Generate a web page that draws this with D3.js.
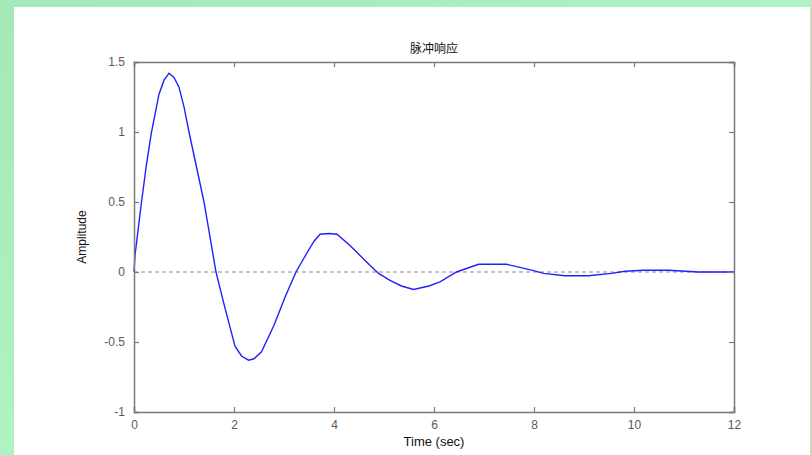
<!DOCTYPE html>
<html>
<head>
<meta charset="utf-8">
<script src="https://cdn.jsdelivr.net/npm/d3@7"></script>
<style>
  body { margin: 0; background: #aaefbe; }
  svg { display: block; }
</style>
</head>
<body>
<div id="chart"></div>
<script>
// impulse response
var timeVals = [0, 0.02, 0.15, 0.25, 0.35, 0.5, 0.6, 0.7, 0.8, 0.9, 1.0, 1.1, 1.4, 1.64, 1.8, 2.02, 2.15, 2.29, 2.4, 2.55, 2.8, 3.02, 3.24, 3.4, 3.6, 3.72, 3.9, 4.06, 4.32, 4.6, 4.89, 5.12, 5.35, 5.59, 5.9, 6.12, 6.45, 6.89, 7.45, 7.99, 8.19, 8.62, 9.09, 9.55, 9.82, 10.19, 10.69, 11.29, 12];
var ampVals  = [0, 0.12, 0.5, 0.77, 1.0, 1.27, 1.37, 1.42, 1.39, 1.32, 1.18, 1.0, 0.5, 0, -0.23, -0.53, -0.6, -0.63, -0.62, -0.57, -0.38, -0.18, 0, 0.1, 0.22, 0.27, 0.275, 0.27, 0.19, 0.09, -0.01, -0.06, -0.1, -0.125, -0.1, -0.07, 0, 0.055, 0.055, 0.01, -0.01, -0.027, -0.027, -0.01, 0.005, 0.012, 0.012, 0, 0];
var xTicks = [0, 2, 4, 6, 8, 10, 12];
var yTicks = [-1, -0.5, 0, 0.5, 1, 1.5];

var width = 811, height = 455;
var svg = d3.select("#chart").append("svg")
    .attr("width", width)
    .attr("height", height);

// slide background
var grad = svg.append("defs").append("linearGradient")
    .attr("id", "bg").attr("x1", "0").attr("y1", "0").attr("x2", "1").attr("y2", "1");
grad.append("stop").attr("offset", "0").attr("stop-color", "#a3e8b6");
grad.append("stop").attr("offset", "0.5").attr("stop-color", "#aef3c2");
grad.append("stop").attr("offset", "1").attr("stop-color", "#a6ecb9");
svg.append("rect").attr("width", width).attr("height", height).attr("fill", "url(#bg)");
svg.append("rect")
    .attr("x", 14).attr("y", 7)
    .attr("width", 796).attr("height", 448)
    .attr("fill", "#ffffff");

var plotLeft = 134, plotRight = 734, plotTop = 62, plotBottom = 412;
var x = d3.scaleLinear().domain([0, 12]).range([plotLeft, plotRight]);
var y = d3.scaleLinear().domain([-1, 1.5]).range([plotBottom, plotTop]);

var axisColor = "#7a7a7a", textColor = "#5a5a5a";

var g = svg.append("g");

// zero reference line
g.append("line")
    .attr("x1", x(0)).attr("x2", x(12))
    .attr("y1", y(0)).attr("y2", y(0))
    .attr("stroke", "#8a8a8a")
    .attr("stroke-width", 1.2)
    .attr("stroke-dasharray", "4,3");

// response curve
var line = d3.line()
    .x(function(d, i) { return x(timeVals[i]); })
    .y(function(d) { return y(d); });

g.append("path")
    .datum(ampVals)
    .attr("d", line)
    .attr("fill", "none")
    .attr("stroke", "#2020ff")
    .attr("stroke-width", 1.4);

// axes: ticks inward on all four sides
var bottomAxis = d3.axisBottom(x).tickValues(xTicks).tickSize(-5).tickPadding(8)
    .tickFormat(d3.format("d"));
var leftAxis = d3.axisLeft(y).tickValues(yTicks).tickSize(-5).tickPadding(9)
    .tickFormat(function(d) { return d; });
var topAxis = d3.axisTop(x).tickValues(xTicks).tickSize(-5).tickFormat("");
var rightAxis = d3.axisRight(y).tickValues(yTicks).tickSize(-5).tickFormat("");

function styleAxis(sel) {
  sel.select(".domain").attr("stroke", axisColor).attr("stroke-width", 1.5);
  sel.selectAll(".tick line").attr("stroke", axisColor).attr("stroke-width", 1.2);
  sel.selectAll(".tick text")
      .attr("fill", textColor)
      .style("font-family", "'Liberation Sans', Arial, sans-serif")
      .style("font-size", "12px");
}

g.append("g").attr("transform", "translate(0," + plotBottom + ")").call(bottomAxis).call(styleAxis);
g.append("g").attr("transform", "translate(" + plotLeft + ",0)").call(leftAxis).call(styleAxis);
g.append("g").attr("transform", "translate(0," + plotTop + ")").call(topAxis).call(styleAxis);
g.append("g").attr("transform", "translate(" + plotRight + ",0)").call(rightAxis).call(styleAxis);

// titles
svg.append("text")
    .attr("x", (plotLeft + plotRight) / 2)
    .attr("y", 53)
    .attr("text-anchor", "middle")
    .style("font-family", "'Noto Sans CJK SC', sans-serif")
    .style("font-size", "12px")
    .attr("fill", "#111")
    .text("脉冲响应");

svg.append("text")
    .attr("x", (plotLeft + plotRight) / 2)
    .attr("y", 446)
    .attr("text-anchor", "middle")
    .style("font-family", "'Liberation Sans', Arial, sans-serif")
    .style("font-size", "13px")
    .attr("fill", "#111")
    .text("Time (sec)");

svg.append("text")
    .attr("transform", "translate(86," + y(0.25) + ") rotate(-90)")
    .attr("text-anchor", "middle")
    .style("font-family", "'Liberation Sans', Arial, sans-serif")
    .style("font-size", "12px")
    .attr("fill", "#111")
    .text("Amplitude");
</script>
</body>
</html>
